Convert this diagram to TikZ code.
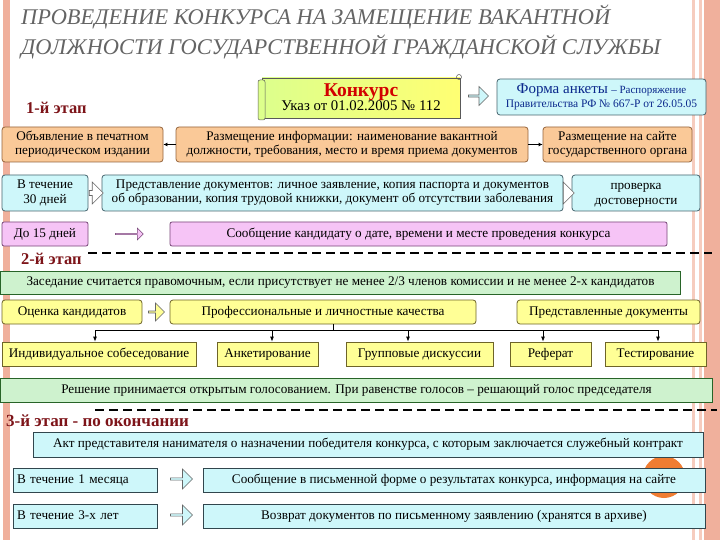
\documentclass[tikz,border=0pt]{standalone}
\usepackage{fontspec}
\setmainfont{Liberation Serif}
\usetikzlibrary{shapes.arrows,arrows.meta}
\definecolor{salmon}{RGB}{240,176,156}
\definecolor{salmonlt}{RGB}{246,204,190}
\definecolor{peachF}{RGB}{250,201,152}
\definecolor{peachD}{RGB}{150,100,60}
\definecolor{cyanF}{RGB}{206,247,250}
\definecolor{cyanD}{RGB}{70,100,110}
\definecolor{pinkF}{RGB}{246,196,246}
\definecolor{pinkD}{RGB}{120,70,120}
\definecolor{greenF}{RGB}{206,242,206}
\definecolor{greenD}{RGB}{40,100,40}
\definecolor{yelF}{RGB}{255,255,150}
\definecolor{yelD}{RGB}{110,100,40}
\definecolor{maroon}{RGB}{125,20,25}
\definecolor{titlegray}{RGB}{100,100,100}
\definecolor{formblue}{RGB}{10,40,140}
\definecolor{konkred}{RGB}{210,0,0}
\definecolor{circorange}{RGB}{240,125,50}
\tikzset{
  boxbase/.style={inner sep=1pt, align=center, line width=0.8pt, font=\fontsize{13.2}{14.2}\selectfont},
  oneline/.style={text height=9pt, text depth=3pt},
  peachbox/.style={boxbase, draw=peachD, fill=peachF, rounded corners=3pt},
  cyanbox/.style={boxbase, draw=cyanD, fill=cyanF, rounded corners=3pt},
  cyansq/.style={boxbase, oneline, draw=cyanD!70!black, fill=cyanF},
  pinkbox/.style={boxbase, oneline, draw=pinkD, fill=pinkF, rounded corners=2pt},
  greenbox/.style={boxbase, oneline, draw=greenD, fill=greenF},
  yelbox/.style={boxbase, oneline, draw=yelD, fill=yelF, rounded corners=3pt},
  yelsq/.style={boxbase, oneline, draw=yelD, fill=yelF},
  harrow/.style={single arrow, draw=gray!80!black, fill=#1, inner sep=0pt, single arrow head extend=2.5pt, line width=0.6pt},
  stagelbl/.style={font=\fontsize{16.5}{18}\selectfont\bfseries, text=maroon, anchor=west, inner sep=0pt},
  dashline/.style={line width=2.4pt, dash pattern=on 9pt off 5pt},
  blackarrow/.style={-{Latex[length=4pt,width=4pt]}, line width=1.1pt},
  treearrow/.style={-{Latex[length=5pt,width=4pt]}, line width=0.8pt}
}
\begin{document}
\begin{tikzpicture}[x=1pt,y=-1pt]
\useasboundingbox (0,0) rectangle (720,540);
\fill[white] (0,0) rectangle (720,540);
% side stripes
\fill[salmon] (3,0) rectangle (10,540);
\fill[salmonlt] (692,0) rectangle (695,540);
\fill[salmonlt] (699,0) rectangle (702,540);
\fill[salmon] (704,0) rectangle (720,540);
% orange circle
\fill[circorange] (664,477) circle (21);
% title
\node[anchor=west, inner sep=0pt, text=titlegray, font=\fontsize{22.4}{24}\selectfont\itshape] (t1) at (21,17) {ПРОВЕДЕНИЕ КОНКУРСА НА ЗАМЕЩЕНИЕ ВАКАНТНОЙ};
\node[anchor=west, inner sep=0pt, text=titlegray, font=\fontsize{22.4}{24}\selectfont\itshape] (t2) at (21,47) {ДОЛЖНОСТИ ГОСУДАРСТВЕННОЙ ГРАЖДАНСКОЙ СЛУЖБЫ};
% stage 1
\node[stagelbl] (s1) at (26,108) {1-й этап};
\shade[left color=green!30!yellow!45, right color=yellow!55, draw=gray!70!black, line width=0.6pt] (262,78) rectangle (460,118);
\draw[gray!70!black, fill=green!30!yellow!45, line width=0.5pt, rounded corners=2pt] (258,80) rectangle (265,120);
\draw[gray!70!black, line width=0.5pt] (459,77) circle (2.5);
\node[inner sep=0pt, align=center, minimum width=198pt, minimum height=40pt] (konk) at (361,97)
  {{\fontsize{19.5}{20}\selectfont\bfseries\color{konkred}Конкурс}\\[-1pt]{\fontsize{14.8}{16}\selectfont Указ от 01.02.2005 № 112}};
\node[cyanbox, minimum width=209pt, minimum height=36pt, text=formblue] (forma) at (601.5,97)
  {{\fontsize{15}{16}\selectfont Форма анкеты} {\fontsize{11}{12}\selectfont -- Распоряжение}\\{\fontsize{11.5}{13}\selectfont Правительства РФ № 667-Р от 26.05.05}};
\node[harrow=cyanF, minimum height=20pt, minimum width=19pt] (a1) at (478,96) {};
% row 2
\node[peachbox, minimum width=161pt, minimum height=35pt] (obj) at (82.5,144.5) {Объявление в печатном\\периодическом издании};
\node[peachbox, minimum width=352pt, minimum height=35pt] (razm) at (352,144.5) {Размещение информации: наименование вакантной\\должности, требования, место и время приема документов};
\node[peachbox, minimum width=149pt, minimum height=35pt] (sait) at (617.5,144.5) {Размещение на сайте\\государственного органа};
\draw[blackarrow] (razm.west) -- (obj.east);
\draw[blackarrow] (razm.east) -- (sait.west);
% row 3
\node[cyanbox, minimum width=86pt, minimum height=36pt] (d30) at (45,193) {В течение\\30 дней};
\node[cyanbox, minimum width=461pt, minimum height=36pt] (pred) at (332.5,193) {Представление документов: личное заявление, копия паспорта и документов\\об образовании, копия трудовой книжки, документ об отсутствии заболевания};
\node[cyanbox, minimum width=128pt, minimum height=36pt] (prov) at (636,193) {\rule{0pt}{11pt}проверка\\достоверности};
\node[harrow=white, minimum height=14pt, minimum width=22pt, single arrow head extend=1pt] (a2) at (95,193) {};
\node[harrow=white, minimum height=11pt, minimum width=22pt, single arrow head extend=1pt] (a3) at (567.5,193) {};
% row 4
\node[pinkbox, minimum width=86pt, minimum height=24pt] (d15) at (45,234) {До 15 дней};
\node[pinkbox, minimum width=497pt, minimum height=24pt] (soob) at (418.5,234) {Сообщение кандидату о дате, времени и месте проведения конкурса};
\node[harrow=pinkF, minimum height=28pt, minimum width=12pt, draw=pinkD] (a4) at (129,234) {};
% dashed 1
\coordinate (da1) at (88,253);
\coordinate (da2) at (712,253);
\draw[dashline] (da1) -- (da2);
% stage 2
\node[stagelbl] (s2) at (21,259) {2-й этап};
\node[greenbox, minimum width=680pt, minimum height=23pt] (zas) at (340.5,282.5) {Заседание считается правомочным, если присутствует не менее 2/3 членов комиссии и не менее 2-х кандидатов};
\node[yelbox, minimum width=140pt, minimum height=24pt] (ocen) at (72,312) {Оценка кандидатов};
\node[yelbox, minimum width=306pt, minimum height=24pt] (prof) at (323,312) {Профессиональные и личностные качества};
\node[yelbox, minimum width=183pt, minimum height=24pt] (predd) at (608.5,312) {Представленные документы};
\node[harrow=yelF, minimum height=16pt, minimum width=18pt] (a5) at (156,312) {};
\node[yelsq, minimum width=194pt, minimum height=24pt] (indiv) at (99,354) {Индивидуальное собеседование};
\node[yelsq, minimum width=101pt, minimum height=24pt] (ankt) at (267.5,354) {Анкетирование};
\node[yelsq, minimum width=147pt, minimum height=24pt] (grp) at (419.5,354) {Групповые дискуссии};
\node[yelsq, minimum width=81pt, minimum height=24pt] (refr) at (550.5,354) {Реферат};
\node[yelsq, minimum width=101pt, minimum height=24pt] (test) at (655.5,354) {Тестирование};
\coordinate (bus) at (333,330);
\draw[line width=0.8pt] ([xshift=10pt]prof.south) -- (bus);
\draw[line width=0.8pt] ([xshift=-4pt]indiv.north |- bus) -- ([xshift=2.5pt]test.north |- bus);
\draw[treearrow] ([xshift=-4pt]indiv.north |- bus) -- ([xshift=-4pt]indiv.north);
\draw[treearrow] ([xshift=4.5pt]ankt.north |- bus) -- ([xshift=4.5pt]ankt.north);
\draw[treearrow] ([xshift=-11.5pt]grp.north |- bus) -- ([xshift=-11.5pt]grp.north);
\draw[treearrow] ([xshift=-7.5pt]refr.north |- bus) -- ([xshift=-7.5pt]refr.north);
\draw[treearrow] ([xshift=2.5pt]test.north |- bus) -- ([xshift=2.5pt]test.north);
\node[greenbox, minimum width=712pt, minimum height=24pt] (resh) at (356.5,390) {Решение принимается открытым голосованием. При равенстве голосов -- решающий голос председателя};
% dashed 2
\coordinate (db1) at (95,410);
\coordinate (db2) at (717,410);
\draw[dashline] (db1) -- (db2);
% stage 3
\node[stagelbl, font=\fontsize{17}{18}\selectfont\bfseries] (s3) at (6,421) {3-й этап - по окончании};
\node[cyansq, minimum width=670pt, minimum height=25pt] (akt) at (368,444.5) {Акт представителя нанимателя о назначении победителя конкурса, с которым заключается служебный контракт};
\node[cyansq, minimum width=144pt, minimum height=24pt, text width=136pt, align=left, inner sep=4pt] (m1) at (85,480) {В течение 1 месяца};
\node[cyansq, minimum width=502pt, minimum height=24pt] (soob2) at (454,480) {Сообщение в письменной форме о результатах конкурса, информация на сайте};
\node[cyansq, minimum width=144pt, minimum height=24pt, text width=136pt, align=left, inner sep=4pt] (l3) at (85,516) {В течение 3-х лет};
\node[cyansq, minimum width=502pt, minimum height=24pt] (voz) at (454,516) {Возврат документов по письменному заявлению (хранятся в архиве)};
\node[harrow=cyanF, minimum height=22pt, minimum width=20pt] (a6) at (181,479) {};
\node[harrow=cyanF, minimum height=22pt, minimum width=20pt] (a7) at (181,515) {};
\end{tikzpicture}
\end{document}
